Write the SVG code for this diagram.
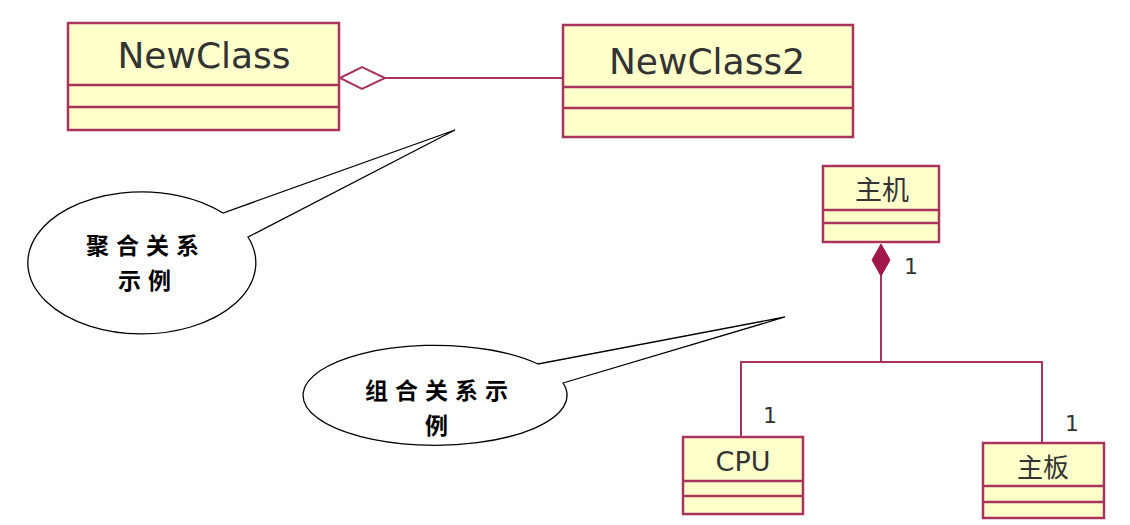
<svg xmlns="http://www.w3.org/2000/svg" width="1130" height="525" viewBox="0 0 1130 525">
<style>
.box{fill:#ffffcc;stroke:#a8345e;stroke-width:2.5}
.div{stroke:#a8345e;stroke-width:2.5}
.cn{font-family:"DejaVu Sans",Verdana,sans-serif;fill:#333;text-anchor:middle}
.cj{font-family:"DejaVu Sans","Noto Sans CJK SC",sans-serif;fill:#333;text-anchor:middle}
.bub{fill:#fff;stroke:#000;stroke-width:1.3}
.bt{font-family:"Noto Sans CJK SC",sans-serif;font-weight:bold;font-size:23px;letter-spacing:7px;fill:#000;text-anchor:middle}
.ln{fill:none;stroke:#a8345e;stroke-width:2}
.m{font-family:"DejaVu Sans",Arial,sans-serif;font-size:22px;fill:#333;text-anchor:middle}
</style>
<rect width="1130" height="525" fill="#fff"/>
<g id="connectors">
<line class="ln" x1="385" y1="78" x2="563" y2="78"/>
<polygon points="340,78,362,67,385,78,362,89" fill="#fff" stroke="#a8345e" stroke-width="2"/>
<polyline class="ln" points="881,275 881,362"/>
<polyline class="ln" points="741,437 741,362 1042,362 1042,443"/>
<polygon points="881,244,890,260,881,276,872,260" fill="#a0184a" stroke="#a0184a" stroke-width="1"/>
<text class="m" x="911" y="274">1</text>
<text class="m" x="770" y="423">1</text>
<text class="m" x="1072" y="431">1</text>
</g>
<g id="NewClass">
<rect class="box" x="68" y="23" width="271" height="107"/>
<line class="div" x1="68" y1="85" x2="339" y2="85"/>
<line class="div" x1="68" y1="107" x2="339" y2="107"/>
<text class="cn" x="204" y="68" font-size="36">NewClass</text>
</g>
<g id="NewClass2">
<rect class="box" x="563" y="25" width="290" height="112"/>
<line class="div" x1="563" y1="87" x2="853" y2="87"/>
<line class="div" x1="563" y1="108" x2="853" y2="108"/>
<text class="cn" x="707" y="74" font-size="36">NewClass2</text>
</g>
<g id="zhuji">
<rect class="box" x="823" y="166" width="116" height="76"/>
<line class="div" x1="823" y1="210" x2="939" y2="210"/>
<line class="div" x1="823" y1="223" x2="939" y2="223"/>
<text class="cj" x="882" y="200" font-size="27">主机</text>
</g>
<g id="CPU">
<rect class="box" x="683" y="437" width="120" height="77"/>
<line class="div" x1="683" y1="481" x2="803" y2="481"/>
<line class="div" x1="683" y1="496" x2="803" y2="496"/>
<text class="cn" x="743" y="471" font-size="27">CPU</text>
</g>
<g id="zhuban">
<rect class="box" x="983" y="443" width="121" height="75"/>
<line class="div" x1="983" y1="486" x2="1104" y2="486"/>
<line class="div" x1="983" y1="502" x2="1104" y2="502"/>
<text class="cj" x="1043" y="477" font-size="26">主板</text>
</g>
<g id="callout1">
<path class="bub" d="M223,213 A114,71 0 1 0 248,237 L455,130 Z"/>
<text class="bt" x="146" y="254">聚合关系</text>
<text class="bt" x="148" y="289">示例</text>
</g>
<g id="callout2">
<path class="bub" d="M538,364 A132,50 0 1 0 563,383 L785,317 Z"/>
<text class="bt" x="440" y="399">组合关系示</text>
<text class="bt" x="440" y="434">例</text>
</g>
</svg>
